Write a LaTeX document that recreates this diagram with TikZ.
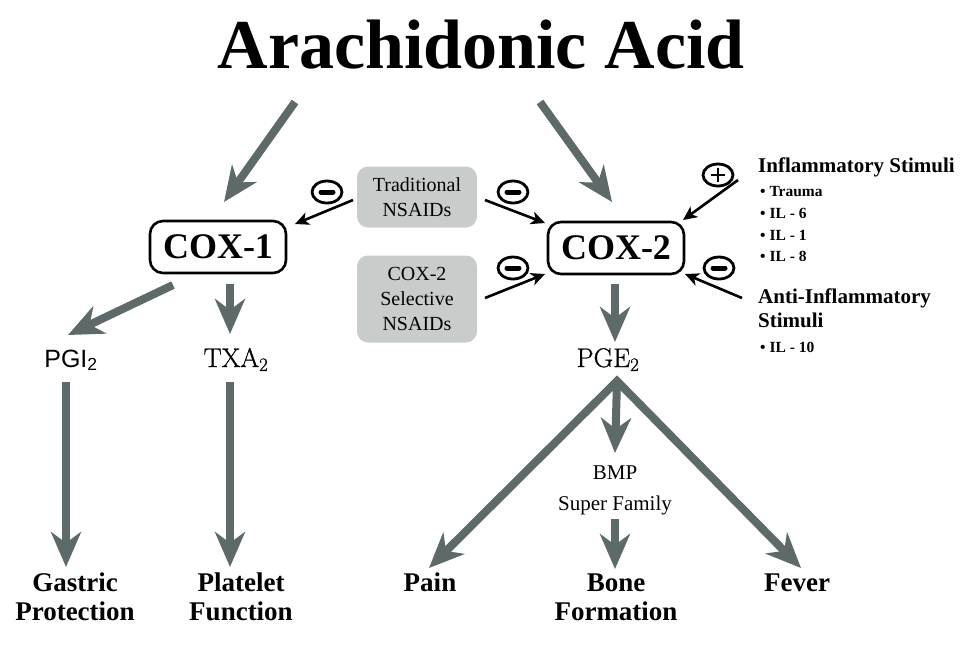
\documentclass[tikz,border=0pt]{standalone}
\usepackage{fontspec}
\setmainfont{Liberation Serif}
\newfontfamily\sansfam{Liberation Sans}
\newfontfamily\lmfam[FakeBold=0.8]{Latin Modern Roman}
\usetikzlibrary{arrows.meta,shapes.geometric}
\definecolor{ggray}{RGB}{94,106,106}
\definecolor{bgray}{RGB}{200,204,203}
\begin{document}
\begin{tikzpicture}[x=1pt,y=-1pt,
  garrow/.style={draw=ggray,line width=8pt,-{Stealth[length=35pt,width=30pt,inset=11pt]}},
  gboth/.style={draw=ggray,line width=8pt,line join=miter,{Stealth[length=35pt,width=30pt,inset=11pt]}-{Stealth[length=35pt,width=30pt,inset=11pt]}},
  barrow/.style={draw=black,line width=2.6pt,-{Stealth[length=14pt,width=13pt,inset=4pt]}},
  coxbox/.style={draw,line width=2.6pt,rounded corners=13pt,minimum width=136pt,minimum height=52pt,inner sep=0pt,font=\bfseries\fontsize{36}{36}\selectfont},
  drugbox/.style={fill=bgray,rounded corners=11pt,minimum width=120pt,inner sep=0pt,align=center,font=\fontsize{20}{25}\selectfont},
  minsign/.style={ellipse,draw,line width=2.8pt,minimum width=30pt,minimum height=22pt,inner sep=0pt,
    path picture={\draw[line width=5pt,line cap=round] (path picture bounding box.center) ++(-6pt,0pt) -- ++(12pt,0pt);}},
  plussign/.style={ellipse,draw,line width=2.8pt,minimum width=30pt,minimum height=22pt,inner sep=0pt,
    path picture={\draw[line width=2.6pt] (path picture bounding box.center) ++(-7pt,0pt) -- ++(14pt,0pt);
                  \draw[line width=2.6pt] (path picture bounding box.center) ++(0pt,-7pt) -- ++(0pt,14pt);}},
  stimhead/.style={anchor=base west,inner sep=0pt,font=\bfseries\fontsize{21}{21}\selectfont},
  stimitem/.style={anchor=base west,inner sep=0pt,font=\bfseries\fontsize{15.5}{15.5}\selectfont},
  outcome/.style={anchor=base,inner sep=0pt,align=center,font=\bfseries\fontsize{27}{29}\selectfont},
  chem/.style={anchor=base,inner sep=0pt,font=\lmfam\fontsize{27}{27}\selectfont},
]
\useasboundingbox (0,0) rectangle (980,649);

% title
\node[anchor=base,inner sep=0pt,font=\bfseries\fontsize{70}{70}\selectfont] (title) at (481,68) {Arachidonic Acid};

% boxes
\node[coxbox] (cox1) at (218,247) {COX-1};
\node[coxbox] (cox2) at (616,248) {COX-2};
\node[drugbox,minimum height=61pt] (trad) at (417,197) {Traditional\\NSAIDs};
\node[drugbox,minimum height=87pt] (sel) at (417,299) {COX-2\\Selective\\NSAIDs};

% signs
\node[minsign] (m1) at (327,192) {};
\node[minsign] (m2) at (513,192) {};
\node[minsign] (m3) at (513,268) {};
\node[minsign] (m4) at (719,268) {};
\node[plussign] (p1) at (718,175) {};

% stimuli text
\node[stimhead] (inf) at (758,172) {Inflammatory Stimuli};
\node[stimitem] (i1) at (760,196) {• Trauma};
\node[stimitem] (i2) at (760,218) {• IL - 6};
\node[stimitem] (i3) at (760,240) {• IL - 1};
\node[stimitem] (i4) at (760,261) {• IL - 8};
\node[stimhead] (anti) at (758,303) {Anti-Inflammatory};
\node[stimhead] (antis) at (758,327) {Stimuli};
\node[stimitem] (a1) at (760,352) {• IL - 10};

% chemicals
\node[chem,font=\sansfam\fontsize{25}{25}\selectfont] (pgi) at (71,367) {PGI\textsubscript{2}};
\node[chem] (txa) at (236,367) {TXA\textsubscript{2}};
\node[chem] (pge) at (608,367) {PGE\textsubscript{2}};
\node[anchor=base,inner sep=0pt,align=center,font=\fontsize{21}{31}\selectfont] (bmp) at (615,510) {BMP\\Super Family};

% outcomes
\node[outcome] (gas) at (75,620) {Gastric\\Protection};
\node[outcome] (plt) at (241,620) {Platelet\\Function};
\node[outcome] (pain) at (430,591) {Pain};
\node[outcome] (bone) at (616,620) {Bone\\Formation};
\node[outcome] (fev) at (797,591) {Fever};

% arrow end points
\coordinate (t1s) at (295,102); \coordinate (t1e) at (224,202);
\coordinate (t2s) at (540,102); \coordinate (t2e) at (612,202);
\coordinate (tr1s) at (353,200); \coordinate (tr1e) at (295,224);
\coordinate (tr2s) at (485,200); \coordinate (tr2e) at (545,223);
\coordinate (se2s) at (485,298); \coordinate (se2e) at (545,274);
\coordinate (infs) at (738,180); \coordinate (infe) at (683,220);
\coordinate (ants) at (742,298); \coordinate (ante) at (685,274);
\coordinate (c1as) at (173,285); \coordinate (c1ae) at (68,335);
\coordinate (c1bs) at (230,284); \coordinate (c1be) at (230,334);
\coordinate (c2s) at (615,284); \coordinate (c2e) at (615,342);
\coordinate (pgis) at (66,382); \coordinate (pgie) at (66,567);
\coordinate (txas) at (230,382); \coordinate (txae) at (230,567);
\coordinate (apex) at (617,381);
\coordinate (paine) at (429,568); \coordinate (feve) at (801,568);
\coordinate (bmpe) at (615,453);
\coordinate (bons) at (615,519); \coordinate (bone2) at (615,569);

% gray arrows
\draw[garrow] (t1s) -- (t1e);
\draw[garrow] (t2s) -- (t2e);
\draw[garrow] (c1as) -- (c1ae);
\draw[garrow] (c1bs) -- (c1be);
\draw[garrow] (c2s) -- (c2e);
\draw[garrow] (pgis) -- (pgie);
\draw[garrow] (txas) -- (txae);
\draw[gboth] (paine) -- (apex) -- (feve);
\draw[garrow] (apex) -- (bmpe);
\draw[garrow] (bons) -- (bone2);

% black arrows
\draw[barrow] (tr1s) -- (tr1e);
\draw[barrow] (tr2s) -- (tr2e);
\draw[barrow] (se2s) -- (se2e);
\draw[barrow] (infs) -- (infe);
\draw[barrow] (ants) -- (ante);
\end{tikzpicture}
\end{document}
